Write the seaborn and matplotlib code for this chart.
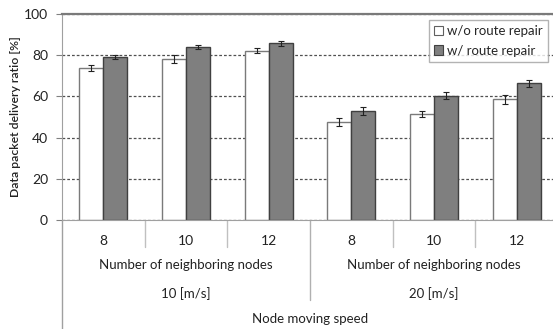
import pandas as pd
import seaborn as sns
import matplotlib.pyplot as plt
from matplotlib.transforms import blended_transform_factory
from matplotlib.patches import Patch

speeds = ["10 [m/s]", "20 [m/s]"]
nodes = ["8", "10", "12"]
series = ["w/o route repair", "w/ route repair"]
wo_repair = [73.8, 78.2, 82.2, 47.7, 51.6, 58.6]
w_repair = [79.1, 83.8, 85.8, 53.0, 60.4, 66.3]
wo_err = [1.5, 1.8, 1.2, 2.0, 1.5, 2.3]
w_err = [1.0, 1.0, 1.2, 1.8, 1.8, 1.8]
yticks = [0, 20, 40, 60, 80, 100]

cells = [f"{s} / {n}" for s in speeds for n in nodes]
df = pd.DataFrame({
    "cell": cells * 2,
    "series": [series[0]] * 6 + [series[1]] * 6,
    "ratio": wo_repair + w_repair,
})

sns.set_style("white")
plt.rcParams["font.family"] = ["Lato", "DejaVu Sans"]

fig = plt.figure(figsize=(5.53, 3.29), dpi=100)
ax = fig.add_axes([62 / 553, 109 / 329, 491 / 553, 206 / 329])

ax.yaxis.grid(True, linestyle=(0, (2.2, 1.6)), color="#505050", linewidth=0.9)
ax.set_axisbelow(True)

sns.barplot(data=df, x="cell", y="ratio", hue="series", order=cells,
            hue_order=series, palette=["white", "#7f7f7f"], width=0.58,
            errorbar=None, ax=ax, legend=False, zorder=2)

edges = ["#7a7a7a", "#404040"]
errs = [wo_err, w_err]
for cont, ec, er in zip(ax.containers, edges, errs):
    for bar, e in zip(cont, er):
        bar.set_edgecolor(ec)
        bar.set_linewidth(1.0)
        cx = bar.get_x() + bar.get_width() / 2
        ax.errorbar(cx, bar.get_height(), yerr=e, color="#222222",
                    capsize=2.2, elinewidth=0.8, capthick=0.8, zorder=3)

ax.set_ylim(0, 100)
ax.set_xlim(-0.5, 5.44)
ax.set_yticks(yticks)
ax.set_yticklabels([str(t) for t in yticks], fontsize=10)
ax.tick_params(axis="y", direction="out", length=4, color="#808080",
               width=0.8, pad=6, labelcolor="#222222", left=True)
ax.set_xticks(range(6))
ax.set_xticklabels(nodes * 2, fontsize=10, color="#222222")
ax.tick_params(axis="x", length=0, pad=11)
ax.set_xlabel("")
ax.set_ylabel("Data packet delivery ratio [%]", fontsize=8.8, color="#222222",
              labelpad=2, fontweight="semibold")

ax.spines["right"].set_visible(False)
ax.spines["top"].set_color("#7a7a7a")
ax.spines["top"].set_linewidth(1.6)
ax.spines["left"].set_color("#a0a0a0")
ax.spines["bottom"].set_color("#a0a0a0")
ax.spines["left"].set_bounds(0, 100)

trans = blended_transform_factory(ax.transData, ax.transAxes)
# left axis line continues below the plot
ax.plot([-0.5, -0.5], [0, -0.55], transform=trans, color="#a0a0a0",
        linewidth=1.0, clip_on=False)
for b in [0.5, 1.5, 3.5, 4.5]:
    ax.plot([b, b], [0, -0.13], transform=trans, color="#c0c0c0",
            linewidth=1.0, clip_on=False)
ax.plot([2.5, 2.5], [0, -0.39], transform=trans, color="#b0b0b0",
        linewidth=1.0, clip_on=False)

for i, s in enumerate(speeds):
    cx = 3 * i + 1
    ax.text(cx, -0.22, "Number of neighboring nodes", transform=trans,
            ha="center", va="center", fontsize=9.5, color="#222222")
    ax.text(cx, -0.355, s, transform=trans, ha="center", va="center",
            fontsize=9.5, color="#222222")
ax.text(2.5, -0.48, "Node moving speed", transform=trans, ha="center",
        va="center", fontsize=9.5, color="#222222")

handles = [Patch(facecolor="white", edgecolor="#606060", linewidth=0.8),
           Patch(facecolor="#7f7f7f", edgecolor="#404040", linewidth=0.8)]
leg = ax.legend(handles, series, loc="upper right",
                bbox_to_anchor=(548 / 553, 1 - 20 / 329),
                bbox_transform=fig.transFigure, fontsize=9.5, frameon=True,
                fancybox=False, handlelength=0.7, handleheight=0.7,
                handletextpad=0.3, borderpad=0.4, labelspacing=0.55,
                borderaxespad=0)
leg.get_frame().set_edgecolor("#a0a0a0")
leg.get_frame().set_linewidth(1.0)

fig.savefig("out.png", dpi=100)
